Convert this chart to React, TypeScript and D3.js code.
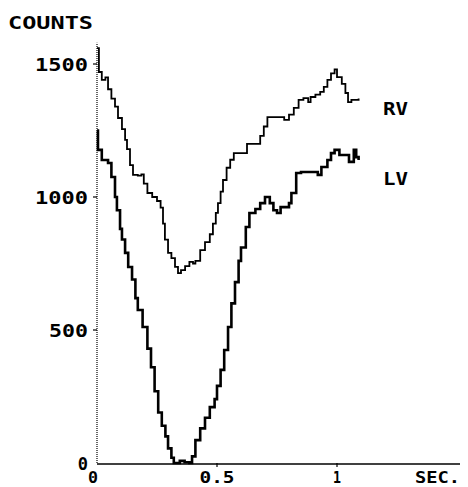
import React from 'react';
import * as d3 from 'd3';

// time (s) and counts
const rvTime = [0, 0.008, 0.02, 0.035, 0.046, 0.06, 0.075, 0.0875, 0.104, 0.117, 0.125, 0.1375, 0.15, 0.17, 0.185, 0.195, 0.21, 0.23, 0.25, 0.265, 0.275, 0.283, 0.296, 0.31, 0.325, 0.3375, 0.35, 0.367, 0.385, 0.4, 0.41, 0.43, 0.45, 0.47, 0.483, 0.495, 0.504, 0.515, 0.525, 0.54, 0.555, 0.57, 0.6, 0.625, 0.67, 0.68, 0.695, 0.71, 0.76, 0.78, 0.8, 0.82, 0.84, 0.86, 0.88, 0.89, 0.91, 0.93, 0.945, 0.96, 0.975, 0.99, 1.0, 1.02, 1.035, 1.046, 1.06, 1.09];
const rvCounts = [1560, 1470, 1440, 1450, 1405, 1370, 1340, 1297, 1255, 1215, 1180, 1120, 1083, 1080, 1085, 1050, 1015, 1000, 985, 960, 900, 840, 790, 770, 737, 714, 725, 740, 756, 750, 760, 800, 830, 860, 900, 940, 977, 1020, 1064, 1110, 1140, 1165, 1165, 1200, 1200, 1230, 1265, 1300, 1300, 1290, 1310, 1335, 1365, 1372, 1357, 1376, 1385, 1395, 1414, 1440, 1465, 1480, 1451, 1425, 1391, 1357, 1365, 1370];

const lvTime = [0, 0.004, 0.02, 0.046, 0.06, 0.075, 0.083, 0.096, 0.104, 0.117, 0.13, 0.146, 0.16, 0.17, 0.19, 0.21, 0.225, 0.24, 0.255, 0.27, 0.285, 0.296, 0.31, 0.32, 0.345, 0.365, 0.385, 0.396, 0.41, 0.43, 0.45, 0.47, 0.49, 0.5, 0.515, 0.53, 0.546, 0.56, 0.575, 0.59, 0.6, 0.62, 0.635, 0.66, 0.68, 0.7, 0.72, 0.735, 0.75, 0.765, 0.8, 0.81, 0.83, 0.85, 0.9, 0.92, 0.935, 0.96, 0.975, 0.99, 1.01, 1.05, 1.07, 1.08, 1.09];
const lvCounts = [1250, 1177, 1139, 1128, 1075, 1000, 950, 880, 840, 790, 737, 690, 620, 575, 511, 430, 360, 270, 190, 140, 100, 55, 20, 0, 8, 3, 0, 25, 86, 130, 170, 210, 240, 290, 350, 425, 511, 600, 680, 760, 810, 887, 940, 955, 977, 1000, 977, 950, 940, 962, 977, 1015, 1090, 1094, 1094, 1083, 1113, 1139, 1165, 1177, 1158, 1132, 1177, 1150, 1139];

const yTicks = [1500, 1000, 500];
const yTickLabels = ['1500', '1000', '500'];
const xTicks = [0, 0.5, 1];
const xTickLabels = ['0', '0.5', '1'];
const seriesLabels = ['RV', 'LV'];

const W = 468;
const H = 487;
const x = d3.scaleLinear().domain([0, 1]).range([97, 337]);
const y = d3.scaleLinear().domain([0, 1500]).range([463, 64]);
const font = '"DejaVu Sans Mono", monospace';

export default function App() {
  const line = d3.line<[number, number]>()
    .x(d => x(d[0]))
    .y(d => y(d[1]))
    .curve(d3.curveStepAfter);
  const rv = rvTime.map((t, i) => [t, rvCounts[i]] as [number, number]);
  const lv = lvTime.map((t, i) => [t, lvCounts[i]] as [number, number]);
  const labelW: Record<string, number> = { '1500': 53, '1000': 53, '500': 39, '0': 10, '0.5': 35, '1': 8 };

  return (
    <svg width={W} height={H} style={{ position: 'absolute', left: 0, top: 0, background: '#fff' }}>
      <g fontFamily={font} fontWeight="bold" fill="#000">
        <text x={8} y={29} fontSize={18} textLength={85} lengthAdjust="spacingAndGlyphs">COUNTS</text>

        {/* y axis, dotted */}
        <line x1={x(0)} x2={x(0)} y1={y(0)} y2={y(1580)} stroke="#000" strokeWidth={1.2} strokeDasharray="1,1" />
        {yTicks.map((t, i) => (
          <g key={t}>
            <line x1={x(0) - 4} x2={x(0)} y1={y(t)} y2={y(t)} stroke="#000" strokeWidth={1.2} />
            <text x={88} y={y(t) + 7} fontSize={17} textAnchor="end"
              textLength={labelW[yTickLabels[i]]} lengthAdjust="spacingAndGlyphs">{yTickLabels[i]}</text>
          </g>
        ))}
        <text x={88} y={470} fontSize={17} textAnchor="end">0</text>

        {/* x axis */}
        <line x1={x(0)} x2={x(1.5125)} y1={y(0) + 1} y2={y(0) + 1} stroke="#000" strokeWidth={1.5} />
        {xTicks.slice(1).map(t => (
          <line key={t} x1={x(t)} x2={x(t)} y1={y(0)} y2={y(0) + 4} stroke="#000" strokeWidth={1.2} />
        ))}
        {xTicks.map((t, i) => (
          <text key={t} x={t === 0 ? 93 : x(t)} y={483} fontSize={15.5} textAnchor="middle"
            textLength={labelW[xTickLabels[i]]} lengthAdjust="spacingAndGlyphs">{xTickLabels[i]}</text>
        ))}
        <text x={415} y={483} fontSize={15.5} textLength={45} lengthAdjust="spacingAndGlyphs">SEC.</text>

        <path d={line(rv) || ''} fill="none" stroke="#000" strokeWidth={1.8} />
        <path d={line(lv) || ''} fill="none" stroke="#000" strokeWidth={2.6} />

        <text x={383} y={115} fontSize={17} textLength={25} lengthAdjust="spacingAndGlyphs">{seriesLabels[0]}</text>
        <text x={383} y={185} fontSize={17} textLength={25} lengthAdjust="spacingAndGlyphs">{seriesLabels[1]}</text>
      </g>
    </svg>
  );
}
